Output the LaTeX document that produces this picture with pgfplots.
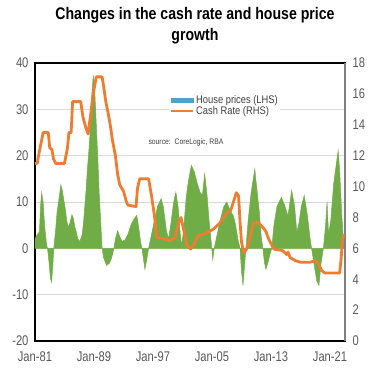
\documentclass[border=0pt]{standalone}
\usepackage{pgfplots}
\pgfplotsset{compat=1.18}
\usepackage{fontspec}
\setmainfont{Liberation Sans}
\newfontfamily\narrowfont[FakeStretch=0.8]{Liberation Sans}
\newfontfamily\titlefont[FakeStretch=0.84]{Liberation Sans}
\newfontfamily\legfont[FakeStretch=0.85]{Liberation Sans}
\definecolor{hpgreen}{RGB}{112,173,71}
\definecolor{cashorange}{RGB}{237,125,49}
\definecolor{legblue}{RGB}{79,163,196}
\definecolor{tickgray}{RGB}{89,89,89}
\definecolor{gridgray}{RGB}{217,217,217}
\definecolor{rightgray}{RGB}{128,128,128}
\definecolor{textgray}{RGB}{64,64,64}

\pgfplotstableread{
year hp
1981.0 2.0
1981.3 3.0
1981.6 3.5
1981.75 9.0
1981.9 12.1
1982.1 10.0
1982.3 5
1982.45 2.5
1982.6 0.5
1982.7 0
1982.9 -3
1983.1 -6.5
1983.25 -7.3
1983.4 -4
1983.55 0
1983.8 4
1984.0 8
1984.2 10
1984.5 13.7
1984.7 12.5
1984.9 10.5
1985.1 8.6
1985.3 6
1985.5 4.6
1985.7 5.2
1986.0 7.2
1986.2 6.5
1986.4 4.6
1986.6 3.5
1986.8 2.0
1987.1 1.5
1987.4 3
1987.6 6
1987.9 12
1988.1 17
1988.4 23
1988.6 31
1988.9 37.3
1989.1 34
1989.3 27
1989.5 20
1989.7 12
1990.0 3
1990.1 0
1990.3 -2
1990.7 -3.7
1991.1 -3.2
1991.4 -2
1991.7 0
1991.9 2
1992.2 3.8
1992.5 2.5
1992.8 1.5
1993.2 1.8
1993.6 3
1994.0 5
1994.4 6.3
1994.8 7.1
1995.1 4
1995.3 1.5
1995.5 0
1995.9 -4.5
1996.2 -2
1996.4 0
1996.8 3
1997.2 6
1997.6 9
1998.1 10.7
1998.4 9
1998.8 4
1999.1 2
1999.4 5
1999.8 10
2000.1 12.1
2000.4 9
2000.7 3
2000.9 0.5
2001.2 5
2001.5 11
2001.8 14.5
2002.2 17.9
2002.6 16.5
2003.0 14
2003.4 12
2003.7 11.5
2004.0 16.1
2004.3 12
2004.6 6
2004.9 1.2
2005.1 -2.4
2005.3 0
2005.7 3
2006.1 6
2006.6 9
2007.0 10
2007.5 8
2007.9 7
2008.2 5
2008.5 2
2008.8 0
2009.0 -5
2009.2 -8
2009.45 -3
2009.6 0
2009.9 6
2010.3 12
2010.8 17.1
2011.0 14
2011.4 8
2011.7 2
2011.9 0
2012.1 -3
2012.3 -4.5
2012.6 -3
2012.9 -1
2013.1 0
2013.4 5
2013.8 9
2014.4 11
2014.8 9.5
2015.3 7
2015.8 12.5
2016.2 9
2016.5 3.5
2016.8 5.5
2017.1 9
2017.5 11.4
2017.9 7.5
2018.3 2
2018.5 0
2018.9 -4
2019.2 -7
2019.5 -8
2019.8 -3
2020.1 0
2020.4 5
2020.6 10
2020.8 3
2021.1 6
2021.5 14
2022.1 21.1
2022.3 17
2022.6 7
2022.9 0
}\hpdata

\pgfplotstableread{
year cash
1981.0 11.5
1981.3 11.5
1981.6 12.3
1981.9 13.0
1982.1 13.5
1982.8 13.5
1983.0 12.5
1983.3 12.4
1983.5 11.8
1983.8 11.5
1985.0 11.5
1985.4 12.5
1985.6 13.5
1985.9 13.5
1986.1 15.5
1987.2 15.5
1987.5 14.5
1987.9 13.8
1988.2 13.4
1988.5 14.5
1988.9 16.0
1989.3 17.1
1990.1 17.1
1990.3 16.5
1990.6 15.5
1990.9 14.8
1991.2 14.0
1991.5 13.0
1991.9 12.0
1992.2 10.8
1992.5 10.1
1993.0 9.7
1993.4 9.0
1993.6 8.8
1994.7 8.7
1994.9 9.9
1995.2 10.5
1996.4 10.5
1996.8 9.4
1997.2 8.1
1997.5 6.7
1998.6 6.6
1999.3 6.5
2000.0 6.7
2000.4 7.6
2000.8 8.0
2001.2 7.1
2001.6 6.2
2002.1 5.95
2002.6 6.3
2003.1 6.8
2004.3 7.0
2005.2 7.25
2006.0 7.6
2007.0 8.3
2007.5 8.4
2007.9 9.0
2008.3 9.6
2008.6 9.4
2008.8 7.7
2009.0 6.4
2009.3 5.7
2009.7 5.95
2010.2 6.8
2010.6 7.6
2011.1 7.7
2011.6 7.5
2012.0 7.3
2012.3 7.1
2012.6 6.7
2013.0 6.3
2013.4 5.95
2014.6 5.85
2015.1 5.6
2015.3 5.75
2015.6 5.4
2016.3 5.2
2017.0 5.1
2018.3 5.1
2019.0 5.2
2019.4 5.0
2019.9 4.55
2020.3 4.4
2022.3 4.4
2022.5 5.3
2022.7 6.6
2022.85 6.9
}\cashdata

\begin{document}
\begin{tikzpicture}
\path[use as bounding box] (-35pt,-41pt) rectangle (348pt,341pt);
\begin{axis}[
  at={(0,0)}, anchor=south west,
  scale only axis, width=310pt, height=278pt,
  xmin=1981, xmax=2023.03,
  ymin=-20, ymax=40,
  ytick={-20,-10,...,40},
  xtick={1981,1989,1997,2005,2013,2021},
  xticklabels={Jan-81,Jan-89,Jan-97,Jan-05,Jan-13,Jan-21},
  ymajorgrids,
  grid style={draw=gridgray, line width=0.8pt},
  major tick length=0pt,
  axis line style={line width=1.1pt, black},
  tick label style={font=\narrowfont\fontsize{14}{14}\selectfont, text=tickgray},
  yticklabel style={xshift=-3pt},
  xticklabel style={yshift=-7pt},
  /pgf/number format/assume math mode=true,
  legend style={at={(rel axis cs:0.432,0.893)}, anchor=north west, draw=none, fill=white,
    inner sep=1pt, font=\legfont\fontsize{11}{11}\selectfont, text=textgray,
    row sep=-1.5pt, nodes={inner sep=1.5pt}},
  legend cell align=left,
]
\addplot[fill=hpgreen, draw=hpgreen, line width=0.5pt,
  legend image code/.code={\fill[legblue] (0pt,-2.2pt) rectangle (22pt,2.2pt);}]
  table[x=year, y=hp] {\hpdata} \closedcycle;
\addlegendentry{House prices (LHS)}
\addlegendimage{legend image code/.code={\draw[line width=2.6pt, cashorange] (0pt,0pt) -- (22pt,0pt);}}
\addlegendentry{Cash Rate (RHS)}
\end{axis}
\begin{axis}[
  at={(0,0)}, anchor=south west,
  scale only axis, width=310pt, height=278pt,
  xmin=1981, xmax=2023.03,
  ymin=0, ymax=18,
  ytick={0,2,...,18},
  axis y line*=right,
  axis x line=none,
  y axis line style={line width=1.2pt, rightgray},
  major tick length=0pt,
  tick label style={font=\narrowfont\fontsize{14}{14}\selectfont, text=tickgray},
  yticklabel style={xshift=4pt},
  /pgf/number format/assume math mode=true,
]
\addplot[cashorange, line width=2.8pt, line join=round] table[x=year, y=cash] {\cashdata};
\end{axis}
\node[align=center, font=\titlefont\bfseries\fontsize{16.8}{21}\selectfont] at (160pt,315.5pt)
  {Changes in the cash rate and house price\\growth};
\node[anchor=west, font=\legfont\fontsize{8}{8}\selectfont, text=textgray] at (110pt,198.3pt)
  {source:\ \ CoreLogic, RBA};
\end{tikzpicture}
\end{document}
